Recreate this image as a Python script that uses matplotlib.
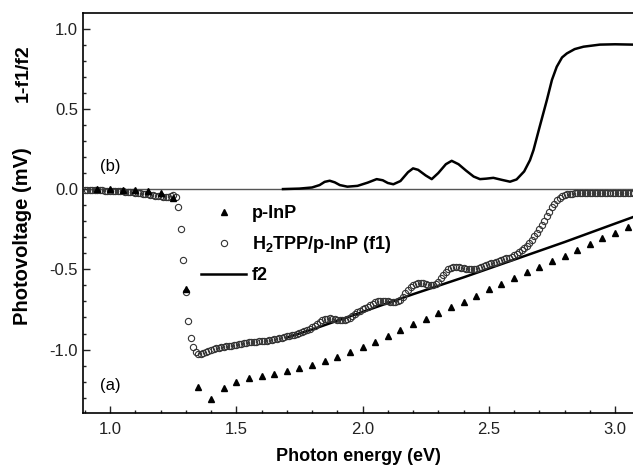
import numpy as np
import matplotlib
matplotlib.use("Agg")
import matplotlib.pyplot as plt
from matplotlib.ticker import MultipleLocator

plt.rcParams["font.family"] = ["Liberation Sans", "DejaVu Sans"]
plt.rcParams["axes.unicode_minus"] = False
plt.rcParams["mathtext.fontset"] = "custom"
plt.rcParams["mathtext.rm"] = "Liberation Sans:bold"
plt.rcParams["mathtext.bf"] = "Liberation Sans:bold"

# (a) p-InP photovoltage, one point every 0.05 eV
inp_e = [0.95, 1.00, 1.05, 1.10, 1.15, 1.20, 1.25, 1.30, 1.35, 1.40, 1.45, 1.50,
         1.55, 1.60, 1.65, 1.70, 1.75, 1.80, 1.85, 1.90, 1.95, 2.00, 2.05, 2.10,
         2.15, 2.20, 2.25, 2.30, 2.35, 2.40, 2.45, 2.50, 2.55, 2.60, 2.65, 2.70,
         2.75, 2.80, 2.85, 2.90, 2.95, 3.00, 3.05]
inp_v = [-0.000, -0.002, -0.004, -0.006, -0.010, -0.022, -0.058, -0.625, -1.232,
         -1.310, -1.242, -1.200, -1.176, -1.165, -1.153, -1.132, -1.115, -1.097,
         -1.072, -1.045, -1.014, -0.982, -0.951, -0.916, -0.879, -0.843, -0.812,
         -0.775, -0.737, -0.702, -0.665, -0.625, -0.592, -0.557, -0.519, -0.484,
         -0.447, -0.416, -0.380, -0.343, -0.307, -0.272, -0.235]

# (a) H2TPP/p-InP photovoltage (f1), one point every 0.01 eV from 0.90 eV
f1_start, f1_step = 0.90, 0.01
f1_v = [
    -0.005, -0.005, -0.006, -0.006, -0.007, -0.007, -0.008, -0.008, -0.009, -0.010,  # 0.90
    -0.011, -0.012, -0.012, -0.013, -0.014, -0.015, -0.016, -0.017, -0.018, -0.020,  # 1.00
    -0.022, -0.024, -0.026, -0.028, -0.030, -0.032, -0.035, -0.037, -0.040, -0.042,  # 1.10
    -0.045, -0.048, -0.052, -0.050, -0.042, -0.035, -0.050, -0.110, -0.250, -0.440,  # 1.20
    -0.640, -0.820, -0.930, -0.985, -1.015, -1.027, -1.028, -1.022, -1.015, -1.008,  # 1.30
    -1.002, -0.997, -0.993, -0.990, -0.986, -0.983, -0.980, -0.977, -0.975, -0.972,  # 1.40
    -0.969, -0.966, -0.964, -0.961, -0.958, -0.955, -0.953, -0.951, -0.950, -0.949,  # 1.50
    -0.948, -0.946, -0.945, -0.942, -0.939, -0.936, -0.933, -0.930, -0.926, -0.922,  # 1.60
    -0.918, -0.914, -0.910, -0.906, -0.902, -0.898, -0.893, -0.887, -0.879, -0.870,  # 1.70
    -0.860, -0.850, -0.838, -0.826, -0.816, -0.810, -0.807, -0.806, -0.807, -0.810,  # 1.80
    -0.813, -0.815, -0.816, -0.815, -0.810, -0.801, -0.790, -0.778, -0.767, -0.758,  # 1.90
    -0.750, -0.742, -0.733, -0.723, -0.713, -0.704, -0.698, -0.695, -0.695, -0.697,  # 2.00
    -0.700, -0.703, -0.706, -0.706, -0.700, -0.688, -0.670, -0.650, -0.630, -0.612,  # 2.10
    -0.598, -0.589, -0.585, -0.585, -0.588, -0.593, -0.597, -0.600, -0.599, -0.592,  # 2.20
    -0.578, -0.557, -0.535, -0.515, -0.500, -0.490, -0.485, -0.484, -0.486, -0.489,  # 2.30
    -0.492, -0.495, -0.497, -0.498, -0.498, -0.495, -0.490, -0.484, -0.477, -0.471,  # 2.40
    -0.466, -0.463, -0.460, -0.455, -0.449, -0.443, -0.437, -0.432, -0.427, -0.421,  # 2.50
    -0.413, -0.403, -0.392, -0.380, -0.367, -0.352, -0.335, -0.316, -0.295, -0.273,  # 2.60
    -0.250, -0.225, -0.198, -0.170, -0.140, -0.113, -0.090, -0.070, -0.055, -0.044,  # 2.70
    -0.037, -0.033, -0.030, -0.028, -0.027, -0.026, -0.026, -0.025, -0.025, -0.025,  # 2.80
    -0.025, -0.025, -0.025, -0.024, -0.024, -0.024, -0.024, -0.024, -0.023, -0.023,  # 2.90
    -0.023, -0.023, -0.023, -0.022, -0.022, -0.022, -0.022, -0.022,                  # 3.00
]
f1_e = f1_start + f1_step * np.arange(len(f1_v))

# (a) fitted background f2
f2_e = [1.70, 1.80, 2.00, 2.20, 2.40, 2.60, 2.80, 3.00, 3.07]
f2_v = [-0.925, -0.875, -0.765, -0.655, -0.550, -0.440, -0.330, -0.215, -0.175]

# (b) 1 - f1/f2
b_e = [1.685, 1.75, 1.80, 1.83, 1.85, 1.87, 1.89, 1.91, 1.94, 1.98, 2.02, 2.056,
       2.08, 2.10, 2.122, 2.15, 2.18, 2.20, 2.22, 2.25, 2.274, 2.30, 2.33, 2.353,
       2.38, 2.41, 2.44, 2.465, 2.49, 2.518, 2.55, 2.584, 2.61, 2.64, 2.663, 2.677,
       2.70, 2.73, 2.75, 2.769, 2.79, 2.809, 2.84, 2.875, 2.94, 3.00, 3.07]
b_v = [0.000, 0.003, 0.010, 0.025, 0.045, 0.052, 0.042, 0.025, 0.015, 0.020, 0.040,
       0.062, 0.055, 0.038, 0.030, 0.050, 0.105, 0.129, 0.120, 0.085, 0.062, 0.100,
       0.155, 0.176, 0.155, 0.115, 0.078, 0.062, 0.065, 0.070, 0.058, 0.046, 0.060,
       0.110, 0.180, 0.243, 0.380, 0.555, 0.680, 0.762, 0.820, 0.845, 0.872, 0.887,
       0.900, 0.902, 0.900]

fig = plt.figure(figsize=(6.33, 4.74), dpi=100)
ax = fig.add_axes([0.1311, 0.128, 0.8689, 0.8446])

ax.axhline(0, color="#555555", lw=1.0, zorder=1)
ax.plot(b_e, b_v, color="black", lw=1.8, zorder=3)
ax.plot(f2_e, f2_v, color="black", lw=1.8, label="f2", zorder=2)
ax.plot(inp_e, inp_v, "^", color="black", ms=5, lw=0, label="p-InP", zorder=4)
ax.plot(f1_e, f1_v, "o", mfc="none", mec="#333333", mew=0.8, ms=4.5, lw=0,
        label=r"H$_2$TPP/p-InP (f1)", zorder=3)

ax.set_xlim(0.893, 3.071)
ax.set_ylim(-1.397, 1.097)
ax.xaxis.set_major_locator(MultipleLocator(0.5))
ax.xaxis.set_minor_locator(MultipleLocator(0.1))
ax.yaxis.set_major_locator(MultipleLocator(0.5))
ax.yaxis.set_minor_locator(MultipleLocator(0.1))
ax.xaxis.set_major_formatter(plt.FormatStrFormatter("%.1f"))
ax.yaxis.set_major_formatter(plt.FormatStrFormatter("%.1f"))
ax.tick_params(which="both", direction="in", labelsize=12, colors="#222222",
               top=False, right=False)
ax.tick_params(which="major", length=5, width=1)
ax.tick_params(which="minor", length=2.5, width=1)
ax.tick_params(axis="x", pad=6)
ax.spines["right"].set_visible(False)
for s in ("left", "top", "bottom"):
    ax.spines[s].set_linewidth(1.2)

ax.set_xlabel("Photon energy (eV)", fontsize=13, fontweight="bold", labelpad=8)
fig.text(0.035, 1 - 236 / 474, "Photovoltage (mV)", rotation=90, fontsize=14.5,
         fontweight="bold", ha="center", va="center")
fig.text(0.036, 1 - 73 / 474, "1-f1/f2", rotation=90, fontsize=14,
         fontweight="bold", ha="center", va="center")

ax.text(1.0, 0.14, "(b)", fontsize=12, ha="center", va="center")
ax.text(1.0, -1.225, "(a)", fontsize=12, ha="center", va="center")

handles, labels = ax.get_legend_handles_labels()
order = [1, 2, 0]
ax.legend([handles[i] for i in order], [labels[i] for i in order],
          loc="upper left", bbox_to_anchor=(0.215, 0.52), frameon=False,
          numpoints=1, handlelength=2.5, handletextpad=0.3, labelspacing=0.67,
          borderpad=0, borderaxespad=0,
          prop={"size": 13, "weight": "bold"})

fig.savefig("out.png")
